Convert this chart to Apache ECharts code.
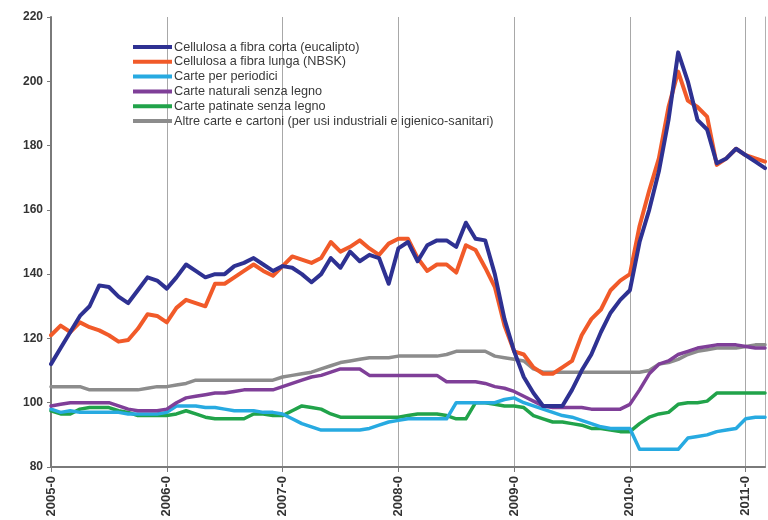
<!DOCTYPE html>
<html>
<head>
<meta charset="utf-8">
<script src="https://cdn.jsdelivr.net/npm/echarts@6/dist/echarts.min.js"></script>
<style>
html,body{margin:0;padding:0;background:#fff;}
#chart{width:768px;height:520px;}
</style>
</head>
<body>
<div id="chart"></div>
<script>
// Year tick labels (one every 12 months) and months covered
const yearLabels = ["2005-0", "2006-0", "2007-0", "2008-0", "2009-0", "2010-0", "2011-0"];
const monthsCount = 75;

const seriesNames = [
  "Cellulosa a fibra corta (eucalipto)",
  "Cellulosa a fibra lunga (NBSK)",
  "Carte per periodici",
  "Carte naturali senza legno",
  "Carte patinate senza legno",
  "Altre carte e cartoni (per usi industriali e igienico-sanitari)"
];

const eucalipto = [112,117,122,127,130,136.5,136,133,131,135,139,138,135.5,139,143,141,139,140,140,142.5,143.5,145,143,141,
  142.5,142,140,137.5,140,145,142,147,144,146,145,137,
  148,150,144,149,150.5,150.5,148.5,156,151,150.5,140,126,
  116,108,103,99,99,99,104,110,115,122,128,132,
  135,150,160,172,188,209,200,188,185,174.5,176,179,177,175,173];

const nbsk = [121,124,122,125,123.5,122.5,121,119,119.5,123,127.5,127,125,129.5,132,131,130,137,137,139,141,143,141,139.5,
  142.5,145.5,144.5,143.5,145,150,147,148.5,150.5,148,146,149.5,
  151,151,145,141,143,143,140.5,149,147.5,142,136,124,
  116,115,111,109,109,111,113,121,126,129,135,138,
  140,155,166,176,192,203,194,192,189,174,176,179,177,176,175];

const periodici = [98,97,97.5,97,97,97,97,97,96.5,96.5,96.5,96.5,97,99,99,99,98.5,98.5,98,97.5,97.5,97.5,97,97,
  96.5,95,93.5,92.5,91.5,91.5,91.5,91.5,91.5,92,93,94,
  94.5,95,95,95,95,95,100,100,100,100,100,101,
  101.5,100,99,98,97,96,95.5,94.5,93.5,92.5,92,92,
  92,85.5,85.5,85.5,85.5,85.5,89,89.5,90,91,91.5,92,95,95.5,95.5];

const naturali = [99,99.5,100,100,100,100,100,99,98,97.5,97.5,97.5,98,100,101.5,102,102.5,103,103,103.5,104,104,104,104,
  105,106,107,108,108.5,109.5,110.5,110.5,110.5,108.5,108.5,108.5,
  108.5,108.5,108.5,108.5,108.5,106.5,106.5,106.5,106.5,106,105,104.5,
  103.5,102,100.5,99,98.5,98.5,98.5,98.5,98,98,98,98,
  99.5,104,109,112,113,115,116,117,117.5,118,118,118,117.5,117,117];

const patinate = [97.5,96.5,96.5,98,98.5,98.5,98.5,97.5,97,96,96,96,96,96.5,97.5,96.5,95.5,95,95,95,95,96.5,96.5,96,
  96,97.5,99,98.5,98,96.5,95.5,95.5,95.5,95.5,95.5,95.5,
  95.5,96,96.5,96.5,96.5,96,95,95,100,100,99.5,99,
  99,98.5,96,95,94,94,93.5,93,92,92,91.5,91,
  91,93.5,95.5,96.5,97,99.5,100,100,100.5,103,103,103,103,103,103];

const altre = [105,105,105,105,104,104,104,104,104,104,104.5,105,105,105.5,106,107,107,107,107,107,107,107,107,107,
  108,108.5,109,109.5,110.5,111.5,112.5,113,113.5,114,114,114,
  114.5,114.5,114.5,114.5,114.5,115,116,116,116,116,114.5,114,
  113.5,113,110.5,109.5,109.5,109.5,109.5,109.5,109.5,109.5,109.5,109.5,
  109.5,109.5,110,112,112.5,113.5,115,116,116.5,117,117,117,117.5,118,118];

const colors = ["#2e3192", "#f15a29", "#27aae1", "#7f3f98", "#21a34a", "#8c8c8c"];

// category axis: one entry per month; show a label only at each January
const categories = [];
for (let i = 0; i < monthsCount; i++) {
  categories.push(i % 12 === 0 ? yearLabels[i / 12] : "m" + i);
}
const isYear = (idx) => idx % 12 === 0;

const seriesData = [eucalipto, nbsk, periodici, naturali, patinate, altre];
const drawOrder = [5, 4, 2, 3, 1, 0];

const series = drawOrder.map(k => ({
  name: seriesNames[k],
  type: "line",
  data: seriesData[k],
  showSymbol: false,
  symbol: "none",
  lineStyle: { width: k < 2 ? 4 : 3.5, color: colors[k], join: "round", cap: "round" },
  itemStyle: { color: colors[k] },
  emphasis: { disabled: true },
  animation: false
}));

const chart = echarts.init(document.getElementById("chart"), null, { renderer: "canvas" });
chart.setOption({
  backgroundColor: "#ffffff",
  animation: false,
  grid: { left: 51, right: 3, top: 17, bottom: 53, containLabel: false },
  legend: {
    data: seriesNames,
    orient: "vertical",
    left: 128,
    top: 35,
    itemWidth: 39,
    itemHeight: 4,
    itemGap: 0.8,
    icon: "rect",
    textStyle: { fontFamily: "Liberation Sans, Arial", fontSize: 12.7, color: "#3a3a3a", lineHeight: 14, padding: [0, 0, 0, -3] },
    selectedMode: false
  },
  xAxis: {
    type: "category",
    data: categories,
    boundaryGap: false,
    axisLine: { show: true, lineStyle: { color: "#7a7a7a", width: 2 } },
    axisTick: { show: true, interval: (idx) => isYear(idx), length: 5, lineStyle: { color: "#7a7a7a", width: 1 } },
    axisLabel: {
      interval: (idx) => isYear(idx),
      rotate: 90,
      margin: 9,
      fontFamily: "Liberation Sans, Arial",
      fontSize: 13,
      fontWeight: "bold",
      color: "#333"
    },
    splitLine: { show: true, interval: (idx) => isYear(idx) && idx > 0, lineStyle: { color: "#a8a8a8", width: 1 } }
  },
  yAxis: [{
    type: "value",
    min: 80,
    max: 220,
    interval: 20,
    axisLine: { show: true, lineStyle: { color: "#7a7a7a", width: 2 } },
    axisTick: { show: true, length: 4, lineStyle: { color: "#7a7a7a" } },
    axisLabel: { fontFamily: "Liberation Sans, Arial", fontSize: 12, fontWeight: "bold", color: "#333", margin: 8 },
    splitLine: { show: false }
  }, {
    type: "value",
    position: "right",
    min: 80,
    max: 220,
    interval: 20,
    axisLine: { show: true, lineStyle: { color: "#b0b0b0", width: 1 } },
    axisTick: { show: false },
    axisLabel: { show: false },
    splitLine: { show: false }
  }],
  series: series
});
</script>
</body>
</html>
